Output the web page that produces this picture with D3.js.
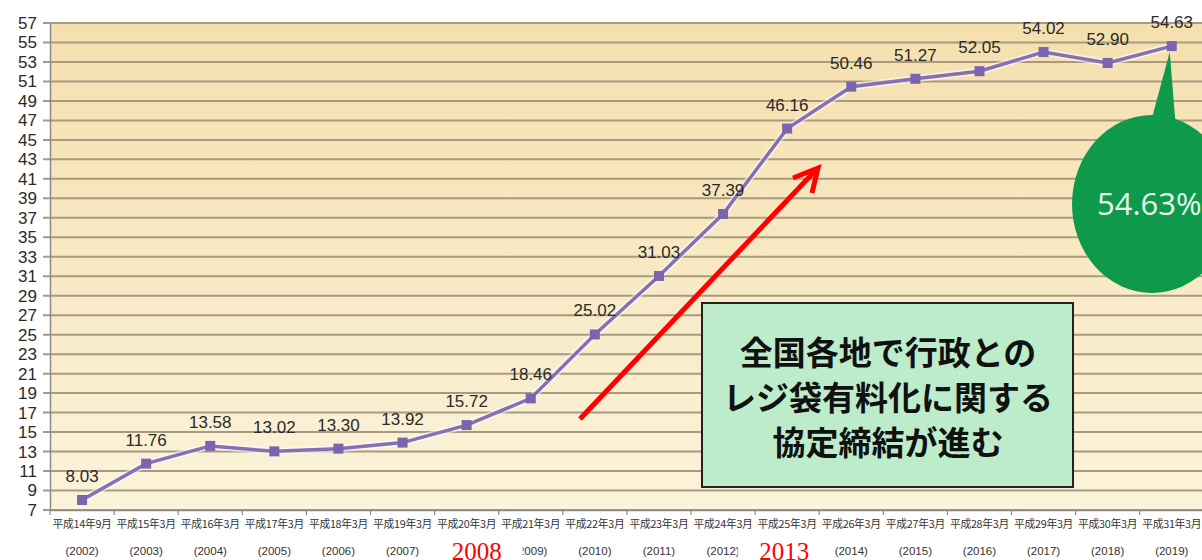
<!DOCTYPE html>
<html>
<head>
<meta charset="utf-8">
<script src="https://cdn.jsdelivr.net/npm/d3@7"></script>
<style>
  body { margin: 0; background: #fff; }
  svg { display: block; }
</style>
</head>
<body>
<div id="chart"></div>
<script>
// レジ袋辞退率の推移

const eraLabels = ["平成14年9月", "平成15年3月", "平成16年3月", "平成17年3月", "平成18年3月", "平成19年3月",
  "平成20年3月", "平成21年3月", "平成22年3月", "平成23年3月", "平成24年3月", "平成25年3月",
  "平成26年3月", "平成27年3月", "平成28年3月", "平成29年3月", "平成30年3月", "平成31年3月"];
const yearLabels = ["2002", "2003", "2004", "2005", "2006", "2007", "2008", "2009", "2010",
  "2011", "2012", "2013", "2014", "2015", "2016", "2017", "2018", "2019"];
const values = [8.03, 11.76, 13.58, 13.02, 13.30, 13.92, 15.72, 18.46, 25.02,
  31.03, 37.39, 46.16, 50.46, 51.27, 52.05, 54.02, 52.90, 54.63];
const yTicks = d3.range(7, 58, 2);
const highlightYears = ["2008", "2013"];
const latestLabel = "54.63%";
const noteLines = ["全国各地で行政との", "レジ袋有料化に関する", "協定締結が進む"];

const width = 1202;
const height = 560;
const margin = { top: 23, left: 50, bottom: 50 };
const plotRight = margin.left + 18 * 64.1;

// the red year patches sit a little off their category centre
const patchShift = { "2008": 10, "2013": -3 };

const svg = d3.select("#chart")
  .append("svg")
  .attr("width", width)
  .attr("height", height);

const defs = svg.append("defs");
const grad = defs.append("linearGradient")
  .attr("id", "bg")
  .attr("x1", 0).attr("y1", 0).attr("x2", 0).attr("y2", 1);
grad.append("stop").attr("offset", "0%").attr("stop-color", "#f5dfae");
grad.append("stop").attr("offset", "100%").attr("stop-color", "#fbf3da");

const x = d3.scaleBand()
  .domain(eraLabels)
  .range([margin.left, plotRight]);

const y = d3.scaleLinear()
  .domain([7, 57])
  .range([height - margin.bottom, margin.top]);

// plot background
svg.append("rect")
  .attr("x", margin.left)
  .attr("y", y(57))
  .attr("width", plotRight - margin.left)
  .attr("height", y(7) - y(57))
  .attr("fill", "url(#bg)");

// gridlines
svg.append("g")
  .selectAll("line")
  .data(yTicks)
  .enter()
  .append("line")
  .attr("x1", margin.left - 7)
  .attr("x2", plotRight)
  .attr("y1", d => y(d))
  .attr("y2", d => y(d))
  .attr("stroke", "#a89a7e")
  .attr("stroke-width", 2);

// y axis
const yAxis = svg.append("g")
  .attr("transform", `translate(${margin.left},0)`)
  .call(d3.axisLeft(y).tickValues(yTicks).tickSize(0).tickPadding(13));
yAxis.select(".domain").attr("stroke", "#8a8a8a").attr("stroke-width", 1.5);
yAxis.selectAll("text")
  .style("font-family", "'Liberation Sans Narrow', 'Liberation Sans', Arial, sans-serif")
  .style("font-size", "17px")
  .attr("fill", "#2a2a2a");

// x axis
const xAxis = svg.append("g")
  .attr("transform", `translate(0,${y(7)})`)
  .call(d3.axisBottom(x).tickSize(0).tickPadding(10));
xAxis.select(".domain").attr("stroke", "#8a8a8a").attr("stroke-width", 1.5);
xAxis.selectAll("text")
  .style("font-family", "'Noto Sans CJK JP', sans-serif")
  .style("font-size", "10.8px")
  .style("letter-spacing", "-0.3px")
  .attr("fill", "#333");

// x tick marks at band edges
svg.append("g")
  .selectAll("line")
  .data(eraLabels)
  .enter()
  .append("line")
  .attr("x1", d => x(d))
  .attr("x2", d => x(d))
  .attr("y1", y(7))
  .attr("y2", y(7) + 5)
  .attr("stroke", "#8a8a8a")
  .attr("stroke-width", 1.2);

// year labels
svg.append("g")
  .selectAll("text")
  .data(yearLabels)
  .enter()
  .append("text")
  .attr("x", (d, i) => x(eraLabels[i]) + x.bandwidth() / 2)
  .attr("y", 555)
  .attr("text-anchor", "middle")
  .style("font-family", "'Liberation Sans Narrow', 'Liberation Sans', Arial, sans-serif")
  .style("font-size", "11.5px")
  .attr("fill", "#333")
  .text(d => `(${d})`);

// red highlighted years on white patches
highlightYears.forEach(yr => {
  const cx = x(eraLabels[yearLabels.indexOf(yr)]) + x.bandwidth() / 2 + patchShift[yr];
  svg.append("rect")
    .attr("x", cx - 46)
    .attr("y", 538)
    .attr("width", 92)
    .attr("height", 22)
    .attr("fill", "#fff");
  svg.append("text")
    .attr("x", cx)
    .attr("y", 560)
    .attr("text-anchor", "middle")
    .style("font-family", "'Liberation Serif', 'DejaVu Serif', serif")
    .style("font-size", "25px")
    .attr("fill", "#ff0000")
    .text(yr);
});

// line
const line = d3.line()
  .x((d, i) => x(eraLabels[i]) + x.bandwidth() / 2)
  .y(d => y(d));

svg.append("path")
  .datum(values)
  .attr("d", line)
  .attr("fill", "none")
  .attr("stroke", "#ffffff")
  .attr("stroke-opacity", 0.55)
  .attr("stroke-width", 7);

svg.append("path")
  .datum(values)
  .attr("d", line)
  .attr("fill", "none")
  .attr("stroke", "#8470b2")
  .attr("stroke-width", 3.5);

svg.append("g")
  .selectAll("rect")
  .data(values)
  .enter()
  .append("rect")
  .attr("x", (d, i) => x(eraLabels[i]) + x.bandwidth() / 2 - 5)
  .attr("y", d => y(d) - 5)
  .attr("width", 10)
  .attr("height", 10)
  .attr("fill", "#7a64ad");

svg.append("g")
  .selectAll("text")
  .data(values)
  .enter()
  .append("text")
  .attr("x", (d, i) => x(eraLabels[i]) + x.bandwidth() / 2)
  .attr("y", d => y(d) - 18)
  .attr("text-anchor", "middle")
  .style("font-family", "'Liberation Sans Narrow', 'Liberation Sans', Arial, sans-serif")
  .style("font-size", "17px")
  .attr("fill", "#2a2a2a")
  .text(d => d.toFixed(2));

// green speech bubble for the latest value
const lastX = x(eraLabels[eraLabels.length - 1]) + x.bandwidth() / 2;
const lastY = y(values[values.length - 1]);
svg.append("path")
  .attr("d", `M${lastX - 2},${lastY + 6} L${lastX - 22},${lastY + 80} L${lastX + 4},${lastY + 80} Z`)
  .attr("fill", "#0e9a4a");
svg.append("ellipse")
  .attr("cx", 1152)
  .attr("cy", 204)
  .attr("rx", 80)
  .attr("ry", 89)
  .attr("fill", "#0e9a4a");
svg.append("text")
  .attr("x", 1097)
  .attr("y", 215)
  .style("font-family", "'Open Sans', 'Noto Sans', sans-serif")
  .style("font-size", "31px")
  .attr("fill", "#e6f6ea")
  .text(latestLabel);

// red arrow
svg.append("line")
  .attr("x1", 580).attr("y1", 419)
  .attr("x2", 815).attr("y2", 171)
  .attr("stroke", "#ff0000")
  .attr("stroke-width", 5);
svg.append("polyline")
  .attr("points", "793,178 818,168 812,193")
  .attr("fill", "none")
  .attr("stroke", "#ff0000")
  .attr("stroke-width", 5)
  .attr("stroke-linejoin", "miter");

// note box
svg.append("rect")
  .attr("x", 702)
  .attr("y", 303)
  .attr("width", 371)
  .attr("height", 184)
  .attr("fill", "#bdeccb")
  .attr("stroke", "#222")
  .attr("stroke-width", 2);

svg.append("g")
  .selectAll("text")
  .data(noteLines)
  .enter()
  .append("text")
  .attr("x", 888)
  .attr("y", (d, i) => 365 + i * 45)
  .attr("text-anchor", "middle")
  .style("font-family", "'Noto Sans CJK JP', sans-serif")
  .style("font-size", "33px")
  .style("font-weight", "bold")
  .attr("fill", "#111")
  .text(d => d);
</script>
</body>
</html>
